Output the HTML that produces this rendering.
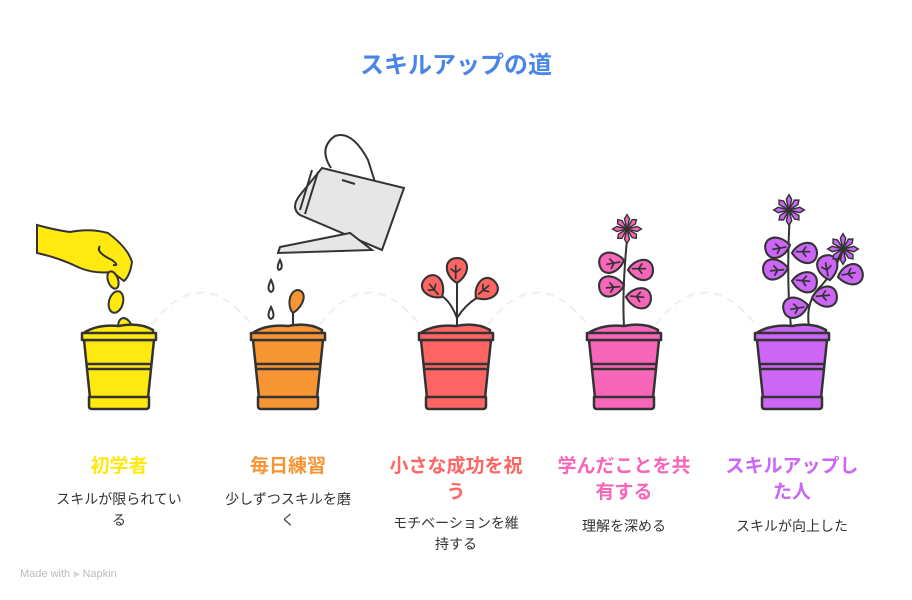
<!DOCTYPE html>
<html><head><meta charset="utf-8"><style>
body{margin:0;width:912px;height:600px;background:#fff;position:relative;overflow:hidden;font-family:"Liberation Sans","Noto Sans CJK JP",sans-serif}
.t{position:absolute;width:144px;text-align:center;font-weight:bold;font-size:19px;line-height:26px}
.d{position:absolute;width:134px;text-align:center;font-size:14px;line-height:21px;color:#333}
svg{position:absolute;left:0;top:0}
</style></head><body>
<svg width="912" height="600" viewBox="0 0 912 600">
<defs>
<g id="pot" stroke="#333" stroke-width="2.5" stroke-linejoin="round">
<path d="M-34 332 Q-20 324 0 326 Q20 322 34 330 L34 334 L-34 334Z"/>
<path d="M-35 340 L-29 398 L29 398 L35 340Z"/>
<rect x="-37" y="333" width="74" height="7"/>
<path d="M-33 364 H33 M-32 369 H32" fill="none"/>
<path d="M-30 397 H30 L30 406 Q30 409 27 409 H-27 Q-30 409 -30 406Z"/>
</g>
<g id="lf" stroke="#333" stroke-width="1.6"><path d="M0 0 C-9 -5 -11 -17 -2 -19 C9 -21 12 -8 0 0Z"/><path d="M-1 -3 L-1 -14 M-1 -8 L-5 -11 M-1 -8 L3 -11" fill="none" stroke-width="1.3"/></g>
<g id="fl" stroke="#333" stroke-width="1.6"><path d="M0 0 L-3 -12 L0 -17 L3 -12Z M0 0 L3 12 L0 17 L-3 12Z M0 0 L12 -3 L17 0 L12 3Z M0 0 L-12 3 L-17 0 L-12 -3Z M0 0 L6 -11 L11 -11 L10 -6Z M0 0 L-6 11 L-11 11 L-10 6Z M0 0 L11 6 L11 11 L6 10Z M0 0 L-11 -6 L-11 -11 L-6 -10Z"/></g>
</defs>
<g fill="none" stroke="#eee" stroke-width="2" stroke-dasharray="8 6">
<path d="M152 325 Q200 260 252 325"/><path d="M320 325 Q368 260 420 325"/><path d="M488 325 Q536 260 588 325"/><path d="M656 325 Q704 260 756 325"/>
</g>
<!-- 1 hand -->
<g stroke="#333" stroke-width="2" fill="#FFE90F">
<path d="M37 225 L37 253 Q60 258 80 268 Q95 274 112 272 L124 281 Q130 276 132 262 Q128 248 108 233 Q90 228 70 232 Q55 230 37 225Z"/>
<path d="M100 246 Q95 252 112 260 Q120 266 113 265" fill="none"/>
<ellipse cx="113" cy="280" rx="5" ry="9" transform="rotate(-20 113 280)"/>
<ellipse cx="116" cy="302" rx="7" ry="11" transform="rotate(15 116 302)"/>
<path d="M118 332 Q117 318 124 318 Q132 320 132 332Z"/>
</g>
<use href="#pot" x="119" fill="#FFE90F"/>
<!-- 2 can -->
<g stroke="#333" stroke-width="2" fill="#E6E6E6">
<path d="M331 168 Q318 148 335 136 Q352 130 368 160 L375 182" fill="none"/>
<path d="M322 168 L404 188 L382 250 L300 215 Q290 208 300 195Z"/>
<path d="M312 170 L300 210 M318 172 L305 214 M342 180 L355 184" fill="none"/>
<path d="M350 233 L280 247 L278 253 L372 250Z"/>
<path d="M280 260 Q276 268 279 270 Q284 268 280 260Z M271 280 Q266 290 271 292 Q276 290 271 280Z M271 307 Q266 317 271 319 Q276 317 271 307Z" fill="#fff"/>
</g>
<g stroke="#333" stroke-width="2" fill="#F79433"><path d="M293 325 L293 313" fill="none"/><path d="M293 313 C286 305 290 290 298 290 C308 292 304 306 293 313Z"/></g>
<use href="#pot" x="288" fill="#F79433"/>
<!-- 3 -->
<g stroke="#333" stroke-width="2" fill="none"><path d="M457 327 L457 282 M457 318 Q450 300 440 295 M457 318 Q465 305 478 297"/></g>
<g fill="#FF6663"><use href="#lf" transform="translate(457 283) scale(1.3)"/><use href="#lf" transform="translate(442 297) rotate(-40) scale(1.3)"/><use href="#lf" transform="translate(476 298) rotate(50) scale(1.3)"/></g>
<use href="#pot" x="456" fill="#FF6663"/>
<!-- 4 -->
<path d="M624 327 Q622 290 627 240" stroke="#333" stroke-width="2" fill="none"/>
<g fill="#F766B8"><use href="#lf" transform="translate(624 260) rotate(-100) scale(1.3)"/><use href="#lf" transform="translate(628 270) rotate(90) scale(1.3)"/><use href="#lf" transform="translate(624 285) rotate(-95) scale(1.3)"/><use href="#lf" transform="translate(626 297) rotate(95) scale(1.3)"/><use href="#fl" transform="translate(627 229) scale(0.85)"/></g>
<use href="#pot" x="624" fill="#F766B8"/>
<!-- 5 -->
<path d="M791 327 Q786 280 790 212 M809 327 Q805 300 822 285 Q835 270 843 250" stroke="#333" stroke-width="2" fill="none"/>
<g fill="#CB66F7"><use href="#lf" transform="translate(790 245) rotate(-100) scale(1.3)"/><use href="#lf" transform="translate(792 253) rotate(90) scale(1.3)"/><use href="#lf" transform="translate(788 268) rotate(-95) scale(1.3)"/><use href="#lf" transform="translate(792 281) rotate(95) scale(1.3)"/><use href="#lf" transform="translate(808 305) rotate(-100) scale(1.3)"/><use href="#lf" transform="translate(812 298) rotate(85) scale(1.3)"/><use href="#lf" transform="translate(830 280) rotate(-10) scale(1.3)"/><use href="#lf" transform="translate(838 277) rotate(80) scale(1.3)"/><use href="#fl" transform="translate(789 210) scale(0.9)"/><use href="#fl" transform="translate(843 249) scale(0.9)"/></g>
<use href="#pot" x="792" fill="#CB66F7"/>
</svg>
<div style="position:absolute;left:0;width:912px;top:50px;text-align:center;font-size:24px;font-weight:bold;color:#4A86E8;line-height:32px">スキルアップの道</div>
<div class="t" style="left:47px;top:454px;color:#FFE90F">初学者</div>
<div class="d" style="left:52px;top:489px">スキルが限られている</div>
<div class="t" style="left:216px;top:454px;color:#F79433">毎日練習</div>
<div class="d" style="left:221px;top:489px">少しずつスキルを磨く</div>
<div class="t" style="left:384px;top:454px;color:#FF6663">小さな成功を祝う</div>
<div class="d" style="left:389px;top:513px">モチベーションを維持する</div>
<div class="t" style="left:552px;top:454px;color:#F766B8">学んだことを共有する</div>
<div class="d" style="left:557px;top:516px">理解を深める</div>
<div class="t" style="left:720px;top:454px;color:#CB66F7">スキルアップした人</div>
<div class="d" style="left:725px;top:516px">スキルが向上した</div>
<div style="position:absolute;left:20px;top:568px;font-size:11px;color:#bbb">Made with ⫸ Napkin</div>
</body></html>
